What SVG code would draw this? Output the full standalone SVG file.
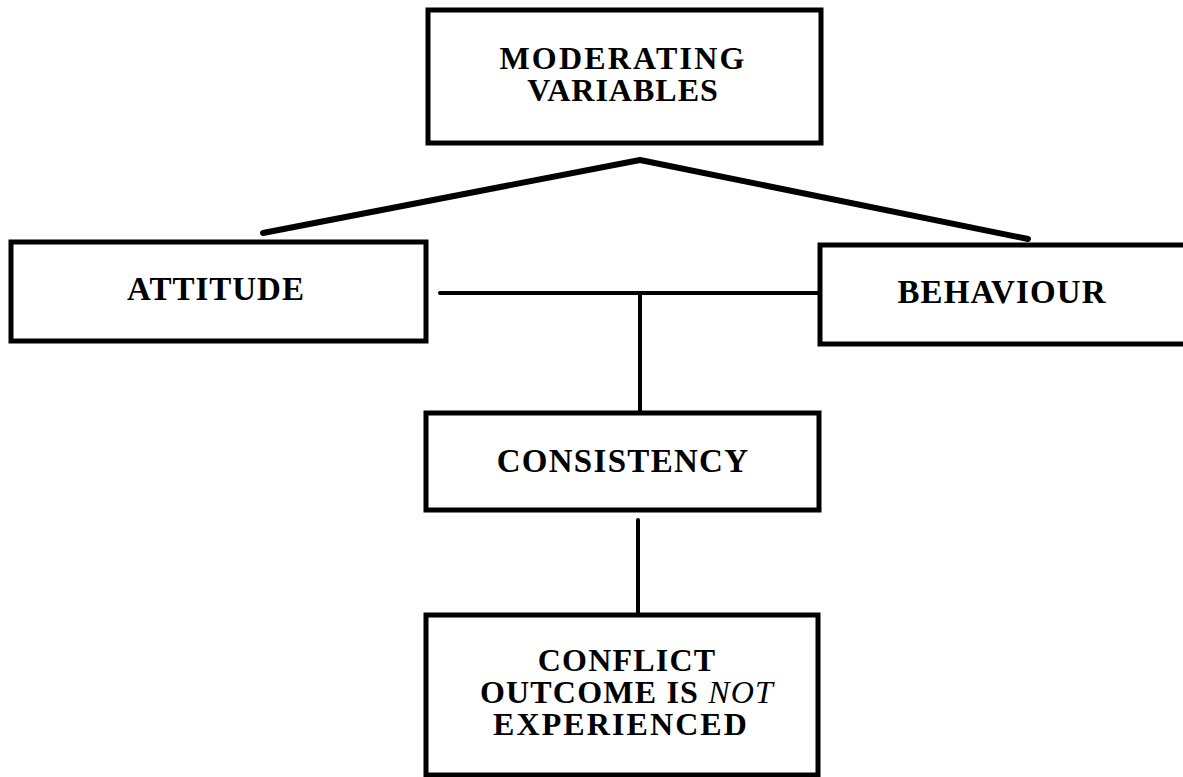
<svg xmlns="http://www.w3.org/2000/svg" width="1183" height="777" viewBox="0 0 1183 777">
<style>
.box{fill:#fff;stroke:#000;stroke-width:5}
.t{font-family:"Liberation Serif","Times New Roman",serif;font-weight:bold;font-size:33px;fill:#000;text-anchor:middle}
.m{font-size:32px}
.c{stroke:#000;fill:none;stroke-linecap:round;stroke-linejoin:round}
</style>
<rect width="1183" height="777" fill="#fff"/>
<g id="connectors">
<polyline class="c" stroke-width="6" points="263,233 640,160 1028,239"/>
<line class="c" stroke-width="4" x1="440" y1="293" x2="820" y2="293"/>
<line class="c" stroke-width="4" x1="640" y1="293" x2="640" y2="412"/>
<line class="c" stroke-width="4" x1="638" y1="520" x2="638" y2="615"/>
</g>
<g id="moderating">
<rect class="box" x="428" y="10" width="393" height="133"/>
<text class="t m" x="623" y="69" letter-spacing="2.2">MODERATING</text>
<text class="t m" x="623" y="101" letter-spacing="1">VARIABLES</text>
</g>
<g id="attitude">
<rect class="box" x="11" y="242" width="415" height="99"/>
<text class="t" x="216" y="300" letter-spacing="1">ATTITUDE</text>
</g>
<g id="behaviour">
<rect class="box" x="820" y="245" width="380" height="99"/>
<text class="t" x="1002" y="303" letter-spacing="1.1">BEHAVIOUR</text>
</g>
<g id="consistency">
<rect class="box" x="426" y="413" width="393" height="97"/>
<text class="t" x="623" y="472" letter-spacing="1.3">CONSISTENCY</text>
</g>
<g id="conflict">
<rect class="box" x="426" y="615" width="392" height="160"/>
<text class="t m" x="627" y="671" letter-spacing="1.2">CONFLICT</text>
<text class="t m" x="627" y="703" letter-spacing="1.2">OUTCOME IS <tspan font-style="italic" font-weight="normal">NOT</tspan></text>
<text class="t m" x="621" y="735" letter-spacing="2.1">EXPERIENCED</text>
</g>
</svg>
